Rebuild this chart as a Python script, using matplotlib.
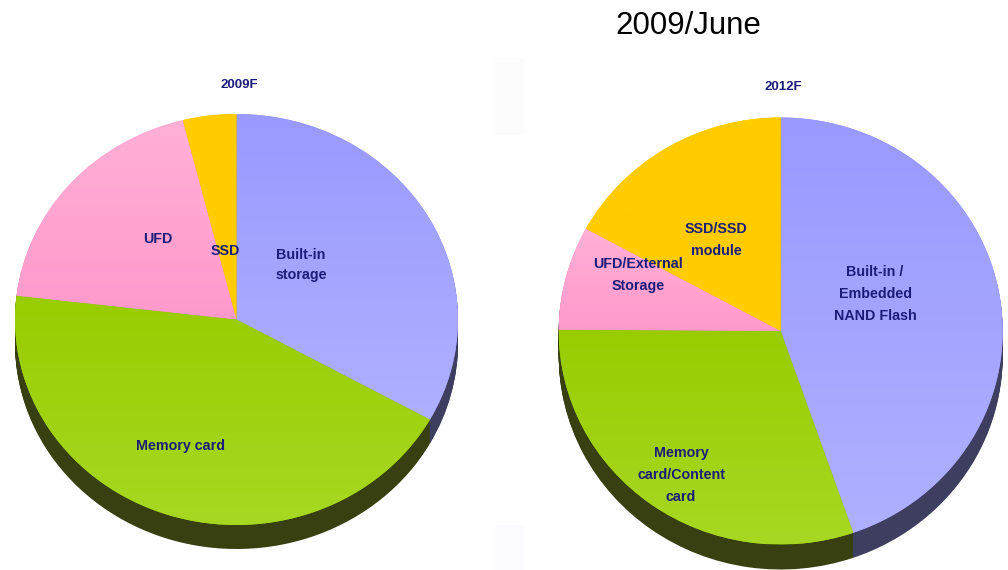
import numpy as np
import matplotlib
matplotlib.use("Agg")
import matplotlib.pyplot as plt
from matplotlib.patches import Rectangle

W, H = 1008, 570

# shares (built-in, memory, ufd, ssd), clockwise from 12 o'clock
shares_2009 = [33.1, 43.75, 19.25, 3.9]
shares_2012 = [44.7, 30.4, 7.85, 17.05]

top_cols = ["#9999FF", "#99CC00", "#FFB0D6", "#FFCC00"]
bot_cols = ["#B0B0FF", "#A8D822", "#FF99CC", "#FFCC00"]
side_cols = ["#3E3E60", "#384012", "#5A3A4A", "#5A4A00"]

plt.rcParams["font.family"] = ["Liberation Sans", "DejaVu Sans"]
fig = plt.figure(figsize=(W / 100, H / 100), dpi=100)


def draw_pie(shares, cx, cy, rx, ry, depth):
    m = 1.02
    d = depth / ry
    ax = fig.add_axes([(cx - m * rx) / W, 1 - (cy + m * ry + depth) / H,
                       2 * m * rx / W, (2 * m * ry + depth) / H])
    # side wall, stacked copies going down
    for k in np.arange(depth, 0, -1):
        ax.pie(shares, colors=side_cols, startangle=90, counterclock=False,
               center=(0, -k / ry), wedgeprops={"linewidth": 0})
    wedges, _ = ax.pie(shares, colors=top_cols, startangle=90, counterclock=False,
                       wedgeprops={"linewidth": 0})
    for w, c1, c2 in zip(wedges, top_cols, bot_cols):
        box = w.get_path().get_extents()
        rgb = np.linspace(matplotlib.colors.to_rgb(c1), matplotlib.colors.to_rgb(c2), 256)
        im = ax.imshow(rgb[:, None, :], extent=(box.x0, box.x1, box.y0, box.y1),
                       origin="upper", aspect="auto", zorder=3)
        im.set_clip_path(w)
    ax.set_aspect("auto")
    ax.set_xlim(-m, m)
    ax.set_ylim(-m - d, m)
    ax.axis("off")


def label(x, y, txt, size=10.3, spacing=1.45):
    fig.text(x / W, 1 - y / H, txt, ha="center", va="center", ma="center", fontsize=size,
             fontweight="bold", color="#1C1C7A", linespacing=spacing, zorder=10)


# faint paler blocks left over in the screenshot
fig.patches.append(Rectangle((495 / W, 1 - 135 / H), 30 / W, 77 / H, transform=fig.transFigure,
                             facecolor="#FCFCFD", edgecolor="none"))
fig.patches.append(Rectangle((495 / W, 0), 30 / W, 45 / H, transform=fig.transFigure,
                             facecolor="#FCFCFE", edgecolor="none"))

draw_pie(shares_2009, 236.5, 319.5, 221.5, 205.5, 24)
draw_pie(shares_2012, 780.7, 331, 222, 213.5, 25)

fig.text(688 / W, 1 - 26 / H, "2009/June", ha="center", va="center", fontsize=22.5, color="#000000")
label(239, 85, "2009F", 9.5)
label(783, 87, "2012F", 9.5)

label(158, 239, "UFD")
label(225, 251, "SSD")
label(301, 265, "Built-in\nstorage", spacing=1.6)
label(180, 446, "Memory card")
label(716, 240, "SSD/SSD\nmodule", spacing=1.75)
label(638, 275, "UFD/External\nStorage", spacing=1.75)
label(875, 294, "Built-in /\nEmbedded\nNAND Flash", spacing=1.75)
label(681, 475, "Memory\ncard/Content\ncard", spacing=1.75)

fig.savefig("out.png", dpi=100)
